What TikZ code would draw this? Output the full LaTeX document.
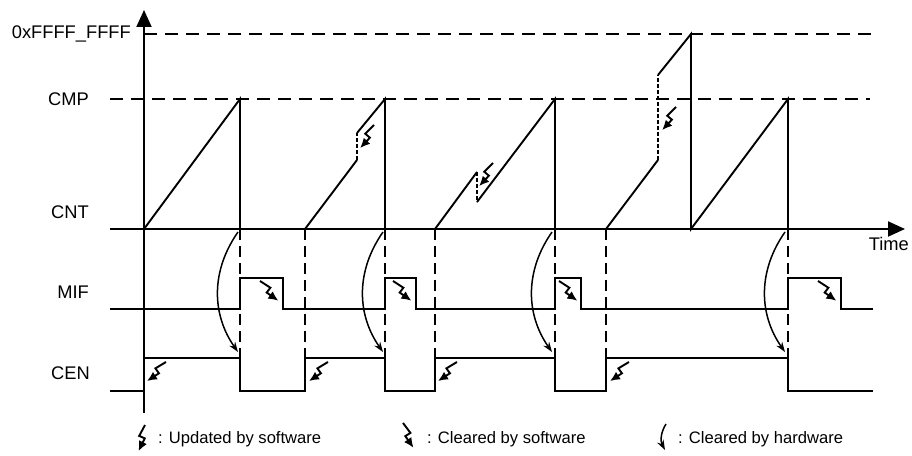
\documentclass[tikz,border=0pt]{standalone}
\usepackage{fontspec}
\setmainfont{Liberation Sans}
\usetikzlibrary{arrows.meta,positioning}
\tikzset{
  wave/.style={line width=1.9pt,line join=miter},
  guide/.style={line width=1.7pt,dash pattern=on 13pt off 8pt},
  edgeguide/.style={line width=1.5pt,dash pattern=on 11pt off 6pt},
  jumpline/.style={line width=1.4pt,dash pattern=on 4pt off 2pt},
  axisarrow/.style={line width=2pt,-{Triangle[length=17pt,width=15pt]}},
  boltline/.style={line width=1.9pt,-{Latex[length=10pt,width=9pt]}},
  hwarrow/.style={line width=1.5pt,-{Stealth[length=10pt,width=7pt]}},
  siglabel/.style={anchor=east,inner sep=0pt,font=\fontsize{18.3}{21}\selectfont},
  legendtext/.style={anchor=west,inner sep=0pt,font=\fontsize{16.6}{20}\selectfont},
  pics/swupdate/.style={code={\draw[boltline] (0,0) -- (-3,-12) -- (3,-13) -- (0,-27);}},
  pics/swclear/.style={code={\draw[boltline] (0,0) -- (3,-12) -- (-3,-13) -- (0,-27);}},
}

\begin{document}
\begin{tikzpicture}[x=1pt,y=1pt]
\useasboundingbox (0,0) rectangle (912,455);

% axes and levels
\draw[guide] (144,421) -- (873,421);
\draw[guide] (110,356) -- (870,356);
\draw[axisarrow] (144,42) -- (144,445);
\draw[axisarrow] (110,226) -- (905,226);

\node[siglabel] (lmax) at (131,421) {0xFFFF\_FFFF};
\node[siglabel] (lcmp) at (89,356) {CMP};
\node[siglabel] (lcnt) at (89,243) {CNT};
\node[siglabel] (lmif) at (89,163) {MIF};
\node[siglabel] (lcen) at (90,82) {CEN};
\node[siglabel] (ltime) at (909,211) {Time};

% counter
\draw[wave] (144,226) -- (240,356) -- (240,226);
\draw[wave] (305,226) -- (357,295);
\draw[jumpline] (357,295) -- (357,322);
\draw[wave] (357,322) -- (385,356) -- (385,226);
\draw[wave] (435,226) -- (477,283);
\draw[jumpline] (477,283) -- (477,253);
\draw[wave] (477,253) -- (555,356) -- (555,226);
\draw[wave] (606,226) -- (658,295);
\draw[jumpline] (658,295) -- (658,380);
\draw[wave] (658,380) -- (691,421) -- (691,226) -- (788,356) -- (788,226);

\pic[rotate=-31] at (374,330) {swupdate};
\pic[rotate=-31] at (493,292) {swupdate};
\pic[rotate=-31] at (676,348) {swupdate};

% edges
\foreach \t in {240,305,385,435,555,606,788}
  \draw[edgeguide] (\t,226) -- (\t,97);

% MIF
\draw[wave] (110,146) -- (240,146) -- (240,177) -- (283,177) -- (283,146)
  -- (385,146) -- (385,177) -- (416,177) -- (416,146)
  -- (555,146) -- (555,177) -- (581,177) -- (581,146)
  -- (788,146) -- (788,177) -- (841,177) -- (841,146) -- (873,146);
\foreach \t in {260,393,559,818}
  \pic[rotate=43] at (\t,174) {swclear};

% CEN
\draw[wave] (110,64) -- (144,64) -- (144,97) -- (240,97) -- (240,64)
  -- (305,64) -- (305,97) -- (385,97) -- (385,64)
  -- (435,64) -- (435,97) -- (555,97) -- (555,64)
  -- (606,64) -- (606,97) -- (788,97) -- (788,64) -- (873,64);
\foreach \t in {166,328,457,629}
  \pic[rotate=-45] at (\t,93) {swupdate};

\foreach \t in {238,383,552,785}
  \draw[hwarrow] (\t,223) to[bend right=35] (\t,103);

% legend
\pic[rotate=-14] at (145,30) {swupdate};
\node[legendtext] (lgupd) at (158,16) {: Updated by software};
\pic[rotate=23] at (403,32) {swclear};
\node[legendtext] (lgclr) at (427,16) {: Cleared by software};
\draw[hwarrow] (666,31) to[bend right=30] (665,5);
\node[legendtext] (lghw) at (678,16) {: Cleared by hardware};

\end{tikzpicture}
\end{document}
